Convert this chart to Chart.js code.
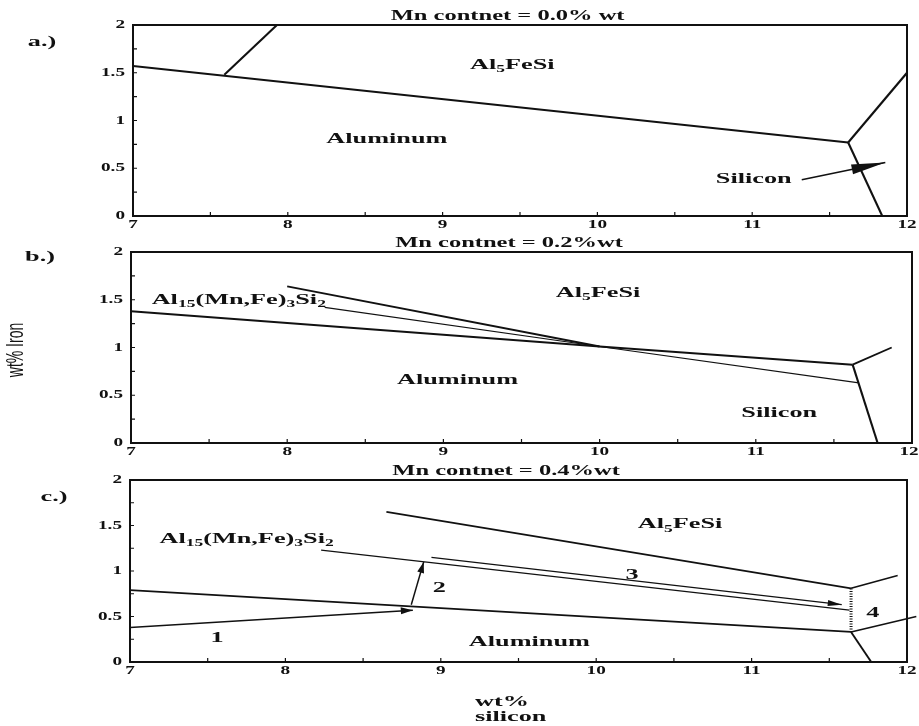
<!DOCTYPE html>
<html>
<head>
<meta charset="utf-8">
<script src="https://cdn.jsdelivr.net/npm/chart.js@4.4.1/dist/chart.umd.min.js"></script>
<style>
    html, body { margin: 0; padding: 0; background: #fff; }
    #wrap { position: relative; width: 919px; height: 726px; overflow: hidden; }
    canvas { position: absolute; left: 0; }
</style>
</head>
<body>
<div id="wrap">
    <canvas id="chart-a" width="919" height="232" style="top:0px"></canvas>
    <canvas id="chart-b" width="919" height="230" style="top:232px"></canvas>
    <canvas id="chart-c" width="919" height="264" style="top:462px"></canvas>
</div>
<script>
// axis ticks (wt% silicon on x, wt% iron on y)
const xTicks = [7, 8, 9, 10, 11, 12];
const xTickLabels = ["7", "8", "9", "10", "11", "12"];
const xMinorTicks = [7.5, 8.5, 9.5, 10.5, 11.5];
const yTicks = [0, 0.5, 1, 1.5, 2];
const yTickLabels = ["0", "0.5", "1", "1.5", "2"];
const yMinorTicks = [0.25, 0.75, 1.25, 1.75];

const titles = ["Mn contnet = 0.0% wt", "Mn contnet = 0.2%wt", "Mn contnet = 0.4%wt"];
const panelTags = ["a.)", "b.)", "c.)"];

// a.) 0.0% Mn
const aAlFeSi = [[7, 1.57], [11.62, 0.77]];
const aUpper = [[7.59, 1.48], [7.93, 2.0]];
const aSiFe = [[11.62, 0.77], [12, 1.5]];
const aAlSi = [[11.62, 0.77], [11.84, 0]];
const aSiliconArrow = [[11.32, 0.38], [11.86, 0.56]];
const aLabels = [["Al_{5}FeSi", 9.45, 1.58], ["Aluminum", 8.64, 0.81], ["Silicon", 11.01, 0.39]];

// b.) 0.2% Mn
const bAlMn = [[7, 1.38], [10, 1.01], [11.62, 0.82]];
const bMnFe = [[8.0, 1.64], [10, 1.01]];
const bThin = [[8.24, 1.42], [10, 1.01], [11.66, 0.63]];
const bSiFe = [[11.62, 0.82], [11.87, 1.0]];
const bAlSi = [[11.62, 0.82], [11.78, 0]];
const bLabels = [["Al_{15}(Mn,Fe)_{3}Si_{2}", 7.69, 1.5], ["Al_{5}FeSi", 9.99, 1.57],
                 ["Aluminum", 9.09, 0.66], ["Silicon", 11.15, 0.31]];

// c.) 0.4% Mn
const cAlMn = [[7, 0.79], [11.64, 0.33]];
const cMnFe = [[8.65, 1.65], [11.64, 0.81]];
const cThin = [[8.23, 1.23], [11.63, 0.57]];
const cSiFe = [[11.64, 0.81], [11.94, 0.95]];
const cSiMn = [[11.64, 0.33], [12.06, 0.5]];
const cAlSi = [[11.64, 0.33], [11.77, 0]];
const cEutectic = [[11.64, 0.33], [11.64, 0.81]];
const cPath1 = [[7, 0.38], [8.82, 0.57]];
const cPath2 = [[8.81, 0.63], [8.89, 1.1]];
const cPath3 = [[8.94, 1.15], [11.58, 0.63]];
const cLabels = [["Al_{15}(Mn,Fe)_{3}Si_{2}", 7.75, 1.35], ["Al_{5}FeSi", 10.54, 1.51],
                 ["Aluminum", 9.57, 0.22], ["1", 7.56, 0.26], ["2", 8.99, 0.81],
                 ["3", 10.23, 0.96], ["4", 11.78, 0.54]];

const INK = "#111";
const STRETCH = 1.75;

// bold serif text, widened like the scan; "_{..}" marks a subscript
function richText(ctx, str, x, y, size, align, stretch) {
    const parts = [];
    str.split(/(_\{[^}]*\})/).forEach(s => {
        if (!s) return;
        if (s.startsWith("_{")) parts.push({ t: s.slice(2, -1), sub: true });
        else parts.push({ t: s, sub: false });
    });
    const fontFor = sub => `bold ${sub ? Math.round(size * 0.65) : size}px "Liberation Serif", "Times New Roman", serif`;
    ctx.save();
    ctx.translate(x, y);
    ctx.scale(stretch || STRETCH, 1);
    ctx.textBaseline = "middle";
    ctx.textAlign = "left";
    ctx.fillStyle = INK;
    let w = 0;
    parts.forEach(p => { ctx.font = fontFor(p.sub); p.w = ctx.measureText(p.t).width; w += p.w; });
    let cx = align === "center" ? -w / 2 : align === "right" ? -w : 0;
    parts.forEach(p => {
        ctx.font = fontFor(p.sub);
        ctx.fillText(p.t, cx, p.sub ? size * 0.3 : 0);
        cx += p.w;
    });
    ctx.restore();
}

function lineSet(points, width, extra) {
    return Object.assign({
        data: points.map(p => ({ x: p[0], y: p[1] })),
        showLine: true,
        borderColor: INK,
        backgroundColor: INK,
        borderWidth: width,
        pointRadius: 0,
        pointHoverRadius: 0,
        fill: false,
        tension: 0
    }, extra || {});
}

const panels = {
    "chart-a": {
        title: titles[0], tag: panelTags[0], tagPos: [42, 42],
        padding: { left: 133, right: 12, top: 25, bottom: 16 },
        labels: aLabels,
        datasets: [
            lineSet(aAlFeSi, 1.9), lineSet(aUpper, 2.1), lineSet(aSiFe, 2.1), lineSet(aAlSi, 2.1),
            lineSet(aSiliconArrow, 1.7, { arrowLength: 34, arrowWidth: 5 })
        ]
    },
    "chart-b": {
        title: titles[1], tag: panelTags[1], tagPos: [40, 25], yTitle: [16, 118],
        padding: { left: 131, right: 7, top: 20, bottom: 19 },
        labels: bLabels,
        datasets: [
            lineSet(bAlMn, 1.9), lineSet(bMnFe, 1.9), lineSet(bThin, 1.1),
            lineSet(bSiFe, 1.9), lineSet(bAlSi, 2.1)
        ]
    },
    "chart-c": {
        title: titles[2], tag: panelTags[2], tagPos: [54, 35], xTitle: [475, 240],
        padding: { left: 130, right: 12, top: 18, bottom: 64 },
        labels: cLabels,
        datasets: [
            lineSet(cAlMn, 1.7), lineSet(cMnFe, 1.7), lineSet(cThin, 1.2),
            lineSet(cSiFe, 1.7), lineSet(cSiMn, 1.7, { clip: false }), lineSet(cAlSi, 1.9),
            lineSet(cEutectic, 3, { borderDash: [1, 1.5] }),
            lineSet(cPath1, 1.5, { arrowLength: 12, arrowWidth: 3.5 }),
            lineSet(cPath2, 1.5, { arrowLength: 11, arrowWidth: 3.5 }),
            lineSet(cPath3, 1.3, { arrowLength: 14, arrowWidth: 3 })
        ]
    }
};

const phasePlugin = {
    id: "phase",
    afterDatasetsDraw(chart) {
        const panel = panels[chart.canvas.id];
        const ctx = chart.ctx;
        const { left, right, top, bottom } = chart.chartArea;
        const xs = chart.scales.x, ys = chart.scales.y;

        ctx.save();
        ctx.strokeStyle = INK;
        ctx.fillStyle = INK;

        // frame
        ctx.lineWidth = 2;
        ctx.strokeRect(left, top, right - left, bottom - top);

        // inward ticks
        ctx.lineWidth = 1.2;
        ctx.beginPath();
        xTicks.concat(xMinorTicks).forEach(v => {
            const px = xs.getPixelForValue(v);
            ctx.moveTo(px, bottom); ctx.lineTo(px, bottom - 4);
        });
        yTicks.concat(yMinorTicks).forEach(v => {
            const py = ys.getPixelForValue(v);
            ctx.moveTo(left, py); ctx.lineTo(left + 4, py);
        });
        ctx.stroke();

        xTicks.forEach((v, i) => {
            const px = Math.min(xs.getPixelForValue(v), chart.width - 10);
            richText(ctx, xTickLabels[i], px, bottom + 9, 12, "center", 1.6);
        });
        yTicks.forEach((v, i) => richText(ctx, yTickLabels[i], left - 8, ys.getPixelForValue(v), 12, "right", 1.6));

        // arrow heads on the last segment
        chart.data.datasets.forEach((ds, i) => {
            if (!ds.arrowLength) return;
            const pts = chart.getDatasetMeta(i).data;
            const a = pts[pts.length - 2], b = pts[pts.length - 1];
            const ang = Math.atan2(b.y - a.y, b.x - a.x);
            ctx.save();
            ctx.translate(b.x, b.y);
            ctx.rotate(ang);
            ctx.beginPath();
            ctx.moveTo(0, 0);
            ctx.lineTo(-ds.arrowLength, ds.arrowWidth);
            ctx.lineTo(-ds.arrowLength, -ds.arrowWidth);
            ctx.closePath();
            ctx.fill();
            ctx.restore();
        });

        panel.labels.forEach(l => richText(ctx, l[0], xs.getPixelForValue(l[1]), ys.getPixelForValue(l[2]), 15, "center"));
        richText(ctx, panel.title, xs.getPixelForValue(9.42), top - 9, 14, "center");
        richText(ctx, panel.tag, panel.tagPos[0], panel.tagPos[1], 15, "center");

        if (panel.yTitle) {
            ctx.save();
            ctx.translate(panel.yTitle[0], panel.yTitle[1]);
            ctx.scale(STRETCH, 1);
            ctx.rotate(-Math.PI / 2);
            ctx.font = '14px "Liberation Sans", Arial, sans-serif';
            ctx.textAlign = "center";
            ctx.textBaseline = "middle";
            ctx.fillText("wt% Iron", 0, 0);
            ctx.restore();
        }
        if (panel.xTitle) {
            richText(ctx, "wt%", panel.xTitle[0], panel.xTitle[1], 15, "left");
            richText(ctx, "silicon", panel.xTitle[0], panel.xTitle[1] + 15, 15, "left");
        }
        ctx.restore();
    }
};

Object.keys(panels).forEach(id => {
    const panel = panels[id];
    new Chart(document.getElementById(id), {
        type: "scatter",
        data: { datasets: panel.datasets },
        options: {
            responsive: false,
            animation: false,
            events: [],
            layout: { padding: panel.padding },
            plugins: { legend: { display: false }, tooltip: { enabled: false } },
            scales: {
                x: { type: "linear", min: 7, max: 12, display: false },
                y: { type: "linear", min: 0, max: 2, display: false }
            }
        },
        plugins: [phasePlugin]
    });
});
</script>
</body>
</html>
